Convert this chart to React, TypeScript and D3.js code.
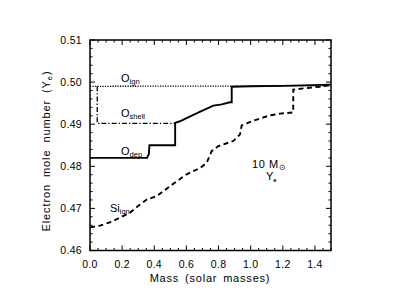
import React from "react";
import * as d3 from "d3";

const oIgnMass = [0.0, 1.5];
const oIgnYe = [0.499, 0.4991];

const oShellMass = [0.045, 0.045, 0.53];
const oShellYe = [0.499, 0.4902, 0.4902];

const oDepMass = [0.0, 0.355, 0.362, 0.366, 0.37, 0.53, 0.53, 0.56, 0.62, 0.7, 0.768, 0.82, 0.871, 0.882, 0.882, 1.0, 1.2, 1.5];
const oDepYe = [0.482, 0.482, 0.4826, 0.4828, 0.485, 0.485, 0.4903, 0.4907, 0.4918, 0.4932, 0.4944, 0.4947, 0.4952, 0.4952, 0.4989, 0.499, 0.4991, 0.4994];

const siIgnMass = [0.0, 0.062, 0.124, 0.187, 0.249, 0.311, 0.353, 0.415, 0.498, 0.602, 0.685, 0.726, 0.757, 0.799, 0.892, 0.934, 0.944, 0.975, 1.038, 1.12, 1.183, 1.265, 1.265, 1.349, 1.432, 1.494];
const siIgnYe = [0.4655, 0.4659, 0.4667, 0.4678, 0.469, 0.4709, 0.4721, 0.4729, 0.4753, 0.4781, 0.4796, 0.4808, 0.4836, 0.4848, 0.486, 0.4876, 0.4897, 0.4902, 0.4911, 0.4921, 0.4925, 0.4928, 0.4982, 0.4986, 0.4989, 0.4993];

const xTicks = [0.0, 0.2, 0.4, 0.6, 0.8, 1.0, 1.2, 1.4];
const yTicks = [0.46, 0.47, 0.48, 0.49, 0.5, 0.51];

const W = 395;
const H = 305;
const L = 90, R = 331, T = 40, B = 250.5;
const FONT = "'Liberation Sans', Arial, Helvetica, sans-serif";

export default function App() {
  const x = d3.scaleLinear().domain([0, 1.5]).range([L, R]);
  const y = d3.scaleLinear().domain([0.46, 0.51]).range([B, T]);

  const mk = (ms: number[], vs: number[]) =>
    d3.line<number>().x((_, i) => x(ms[i])).y((_, i) => y(vs[i]))(ms.map((_, i) => i)) || "";

  const xMinor = d3.range(0, 1.5001, 0.05);
  const yMinor = d3.range(0.46, 0.51001, 0.002);
  const isMajorX = (v: number) => Math.abs(v / 0.2 - Math.round(v / 0.2)) < 1e-6;
  const isMajorY = (v: number) => Math.abs(v / 0.01 - Math.round(v / 0.01)) < 1e-6;

  const tickLines: JSX.Element[] = [];
  xMinor.forEach((v, i) => {
    const len = isMajorX(v) ? 5 : 2.5;
    const px = x(v);
    tickLines.push(<line key={"xb" + i} x1={px} x2={px} y1={B} y2={B - len} />);
    tickLines.push(<line key={"xt" + i} x1={px} x2={px} y1={T} y2={T + len} />);
  });
  yMinor.forEach((v, i) => {
    const len = isMajorY(v) ? 5 : 2.5;
    const py = y(v);
    tickLines.push(<line key={"yl" + i} x1={L} x2={L + len} y1={py} y2={py} />);
    tickLines.push(<line key={"yr" + i} x1={R} x2={R - len} y1={py} y2={py} />);
  });

  return (
    <svg width={W} height={H} style={{ position: "absolute", left: 0, top: 0, background: "#fff" }} fontFamily={FONT}>
      <rect x={0} y={0} width={W} height={H} fill="#fff" />
      <g stroke="#000" strokeWidth={1}>{tickLines}</g>
      <rect x={L} y={T} width={R - L} height={B - T} fill="none" stroke="#000" strokeWidth={1.5} />

      <path d={mk(oIgnMass, oIgnYe)} fill="none" stroke="#000" strokeWidth={1.3} strokeDasharray="1.2,1.3" />
      <path d={mk(oShellMass, oShellYe)} fill="none" stroke="#000" strokeWidth={1.3} strokeDasharray="5,2,1.3,2" />
      <path d={mk(oDepMass, oDepYe)} fill="none" stroke="#000" strokeWidth={1.9} />
      <path d={mk(siIgnMass, siIgnYe)} fill="none" stroke="#000" strokeWidth={1.9} strokeDasharray="5,3.5" />

      <g fontSize={10.5} fill="#000" textAnchor="middle" letterSpacing={0.3}>
        {xTicks.map((v) => (
          <text key={"xl" + v} x={x(v)} y={268}>{v.toFixed(1)}</text>
        ))}
      </g>
      <g fontSize={10.5} fill="#000" textAnchor="end" letterSpacing={0.3}>
        {yTicks.map((v) => (
          <text key={"yl" + v} x={82} y={y(v) + 3.8}>{v.toFixed(2)}</text>
        ))}
      </g>
      <text x={210} y={282} fontSize={11} textAnchor="middle" letterSpacing={0.8} wordSpacing={2}>Mass (solar masses)</text>
      <text transform={`translate(50,151) rotate(-90)`} fontSize={11} textAnchor="middle" letterSpacing={0.9} wordSpacing={3}>
        Electron mole number (Y<tspan fontSize={7.5} dy={2}>e</tspan><tspan dy={-2}>)</tspan>
      </text>

      <g fontSize={11} fill="#000">
        <text x={121} y={82}>O<tspan fontSize={7.5} dy={2}>ign</tspan></text>
        <text x={121} y={117}>O<tspan fontSize={7.5} dy={2}>shell</tspan></text>
        <text x={121} y={155}>O<tspan fontSize={7.5} dy={2}>dep</tspan></text>
        <text x={110} y={212}>Si<tspan fontSize={7.5} dy={2}>ign</tspan></text>
        <text x={252} y={168} letterSpacing={0.6}>10 M<tspan fontSize={8} dy={1.5}>⊙</tspan></text>
        <text x={266} y={180}>Y<tspan fontSize={6} dy={2} fontWeight="bold">e</tspan></text>
      </g>
    </svg>
  );
}
